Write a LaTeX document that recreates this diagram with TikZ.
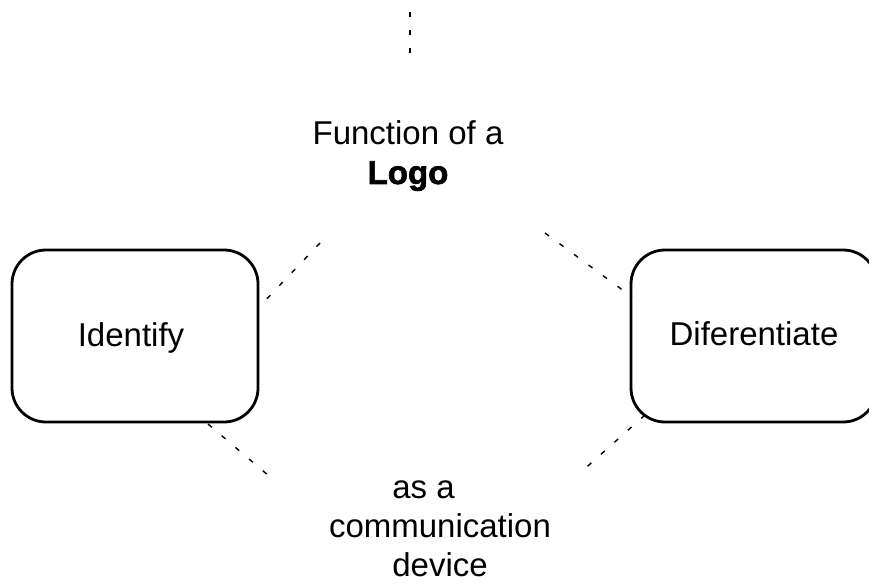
\documentclass[tikz,border=0pt]{standalone}
\usepackage{fontspec}
\setmainfont{Liberation Sans}
\newfontfamily\heavyfont[FakeBold=2]{Liberation Sans Bold}
\begin{document}
\begin{tikzpicture}[x=1pt,y=-1pt,
  card/.style={draw=black,line width=2.8pt,rounded corners=34pt,minimum width=246pt,minimum height=172pt,inner sep=0pt},
  label/.style={font=\fontsize{33}{39}\selectfont,align=center,inner sep=0pt},
  link/.style={line width=1.4pt,dash pattern=on 5pt off 13pt}]
\useasboundingbox (0,0) rectangle (869,585);
\node[card] (id) at (135,336) {};
\node[label] at (131,338) {Identify};
\node[card] (df) at (754,336) {};
\node[label] at (754,334) {Diferentiate};
\node[label] (title) at (408,156) {Function of a\\{\heavyfont Logo}};
\node[label] (dev) at (440,529) {as a\hspace*{1em}\\communication\\device};
% connectors
\coordinate (top1) at (410,12);
\coordinate (top2) at (410,58);
\coordinate (a1) at (320,243);
\coordinate (a2) at (260,306);
\coordinate (b1) at (545,233);
\coordinate (b2) at (632,297);
\coordinate (c1) at (208,424);
\coordinate (c2) at (276,482);
\coordinate (d1) at (645,415);
\coordinate (d2) at (580,473);
\draw[link] (top1) -- (top2);
\draw[link] (a1) -- (a2);
\draw[link] (b1) -- (b2);
\draw[link] (c1) -- (c2);
\draw[link] (d1) -- (d2);
\end{tikzpicture}
\end{document}
